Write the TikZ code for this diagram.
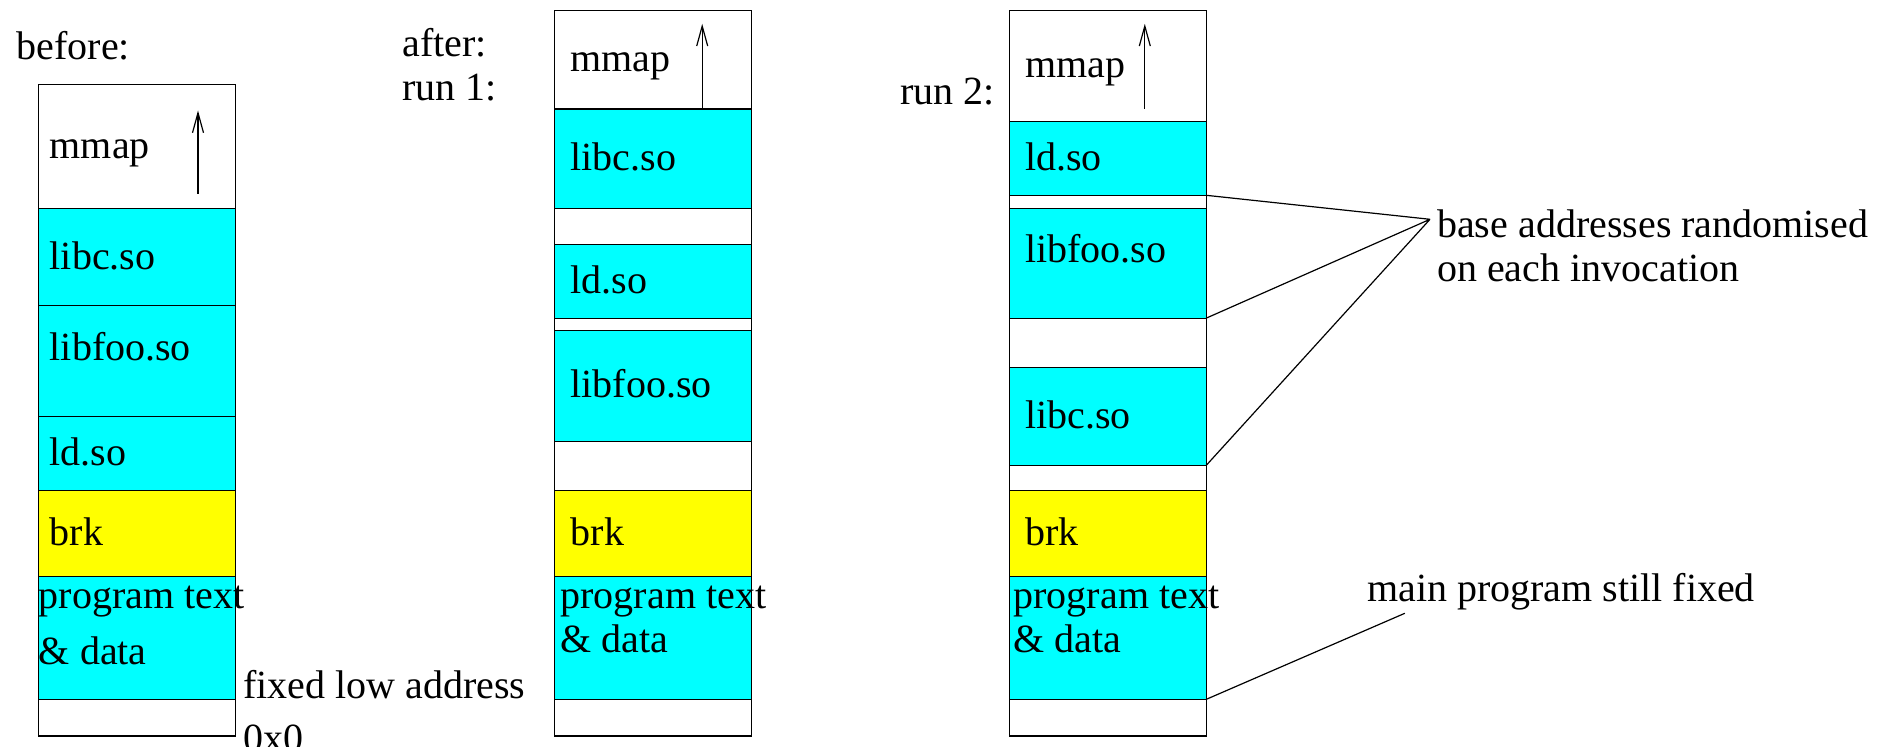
\documentclass[tikz,border=0pt]{standalone}
\usepackage{fontspec}
\setmainfont{Liberation Serif}
\usetikzlibrary{positioning, arrows.meta}

\definecolor{libcol}{RGB}{0,255,255}
\definecolor{brkcol}{RGB}{255,255,0}

\tikzset{
  seg/.style={draw, outer sep=0pt, minimum width=98.4pt, inner ysep=0pt, inner xsep=8pt,
    text width=82.4pt, align=left, text height=17pt, text depth=5pt},
  bseg/.style={seg, inner xsep=5.75pt, text width=86.9pt},
  gap/.style={draw, outer sep=0pt, minimum width=98.4pt, inner sep=0pt},
  lib/.style={fill=libcol},
  heap/.style={fill=brkcol},
  raised/.style={text depth=18pt},
  note/.style={anchor=north west, inner xsep=0pt, inner ysep=1.5pt, align=left, execute at begin node=\strut},
}

\begin{document}
\begin{tikzpicture}[x=0.5pt, y=-0.5pt, node distance=0pt, line width=0.6pt,
    >={Straight Barb[length=10pt,width=5.5pt]}, font=\fontsize{20}{22}\selectfont]
    \useasboundingbox (0,0) rectangle (1883,747);

    % before
    \node[note] (t-before) at (16,25.2) {before:};
    \node[bseg, anchor=north west, minimum height=61.7pt] (b-mmap) at (38.3,84.8) {mmap};
    \node[bseg, lib, minimum height=48.85pt, below=of b-mmap] (b-libc) {libc.so};
    \node[bseg, lib, raised, minimum height=55.5pt, below=of b-libc] (b-foo) {libfoo.so};
    \node[bseg, lib, minimum height=36.9pt, below=of b-foo] (b-ld) {ld.so};
    \node[bseg, heap, minimum height=42.9pt, below=of b-ld] (b-brk) {brk};
    \node[gap, lib, minimum height=61.45pt, below=of b-brk] (b-prog) {};
    \node[gap, minimum height=18.3pt, below=of b-prog] (b-end) {};
    \node[note, inner ysep=4.3pt] (b-progtxt) at (b-prog.north west) {program text\\[6pt]\& data};
    \node[note, inner ysep=0pt] (t-low) at ([shift={(3.8pt,14.6pt)}]b-prog.south east) {fixed low address\\[4.5pt]0x0};
    \draw[->] ([shift={(-18.55pt,7.1pt)}]b-mmap.south east) -- ([shift={(-18.55pt,48.85pt)}]b-mmap.south east);

    % after, run 1
    \node[note] (t-run1) at (402,25.2) {after:\\run 1:};
    \node[seg, anchor=north west, minimum height=49.25pt] (r1-mmap) at (554.7,10.5) {mmap};
    \node[seg, lib, minimum height=49.6pt, below=of r1-mmap] (r1-libc) {libc.so};
    \node[gap, minimum height=18.1pt, below=of r1-libc] (r1-gap1) {};
    \node[seg, lib, minimum height=36.9pt, below=of r1-gap1] (r1-ld) {ld.so};
    \node[gap, minimum height=6.2pt, below=of r1-ld] (r1-gap2) {};
    \node[seg, lib, minimum height=55.3pt, below=of r1-gap2] (r1-foo) {libfoo.so};
    \node[gap, minimum height=24.75pt, below=of r1-foo] (r1-gap3) {};
    \node[seg, heap, minimum height=42.9pt, below=of r1-gap3] (r1-brk) {brk};
    \node[gap, lib, minimum height=61.45pt, below=of r1-brk] (r1-prog) {};
    \node[gap, minimum height=18.3pt, below=of r1-prog] (r1-end) {};
    \node[note, inner ysep=4.3pt] (r1-progtxt) at ([xshift=2.65pt]r1-prog.north west) {program text\\\& data};
    \draw[->] ([xshift=-24.65pt]r1-mmap.south east) -- ([shift={(-24.65pt,42.6pt)}]r1-mmap.south east);

    % run 2
    \node[note] (t-run2) at (900,70.2) {run 2:};
    \node[seg, anchor=north west, minimum height=55.5pt] (r2-mmap) at (1009.3,10.5) {mmap};
    \node[seg, lib, minimum height=36.9pt, below=of r2-mmap] (r2-ld) {ld.so};
    \node[gap, minimum height=6.45pt, below=of r2-ld] (r2-gap1) {};
    \node[seg, lib, raised, minimum height=55pt, below=of r2-gap1] (r2-foo) {libfoo.so};
    \node[gap, minimum height=24.55pt, below=of r2-foo] (r2-gap2) {};
    \node[seg, lib, minimum height=49.1pt, below=of r2-gap2] (r2-libc) {libc.so};
    \node[gap, minimum height=12.6pt, below=of r2-libc] (r2-gap3) {};
    \node[seg, heap, minimum height=42.9pt, below=of r2-gap3] (r2-brk) {brk};
    \node[gap, lib, minimum height=61.45pt, below=of r2-brk] (r2-prog) {};
    \node[gap, minimum height=18.3pt, below=of r2-prog] (r2-end) {};
    \node[note, inner ysep=4.3pt] (r2-progtxt) at ([xshift=1.85pt]r2-prog.north west) {program text\\\& data};
    \draw[->] ([shift={(-30.65pt,6.25pt)}]r2-mmap.south east) -- ([shift={(-30.65pt,48.85pt)}]r2-mmap.south east);

    % notes
    \node[note] (n-rand) at (1436.6,206.2) {base addresses randomised\\on each invocation};
    \node[note] (n-fixed) at (1366.5,567.2) {main program still fixed};
    \coordinate (rand-pt) at (1430,219.3);
    \coordinate (fixed-pt) at (1404.8,613.3);
    \draw (r2-ld.south east) -- (rand-pt)
          (r2-foo.south east) -- (rand-pt)
          (r2-libc.south east) -- (rand-pt);
    \draw (r2-prog.south east) -- (fixed-pt);
\end{tikzpicture}
\end{document}
